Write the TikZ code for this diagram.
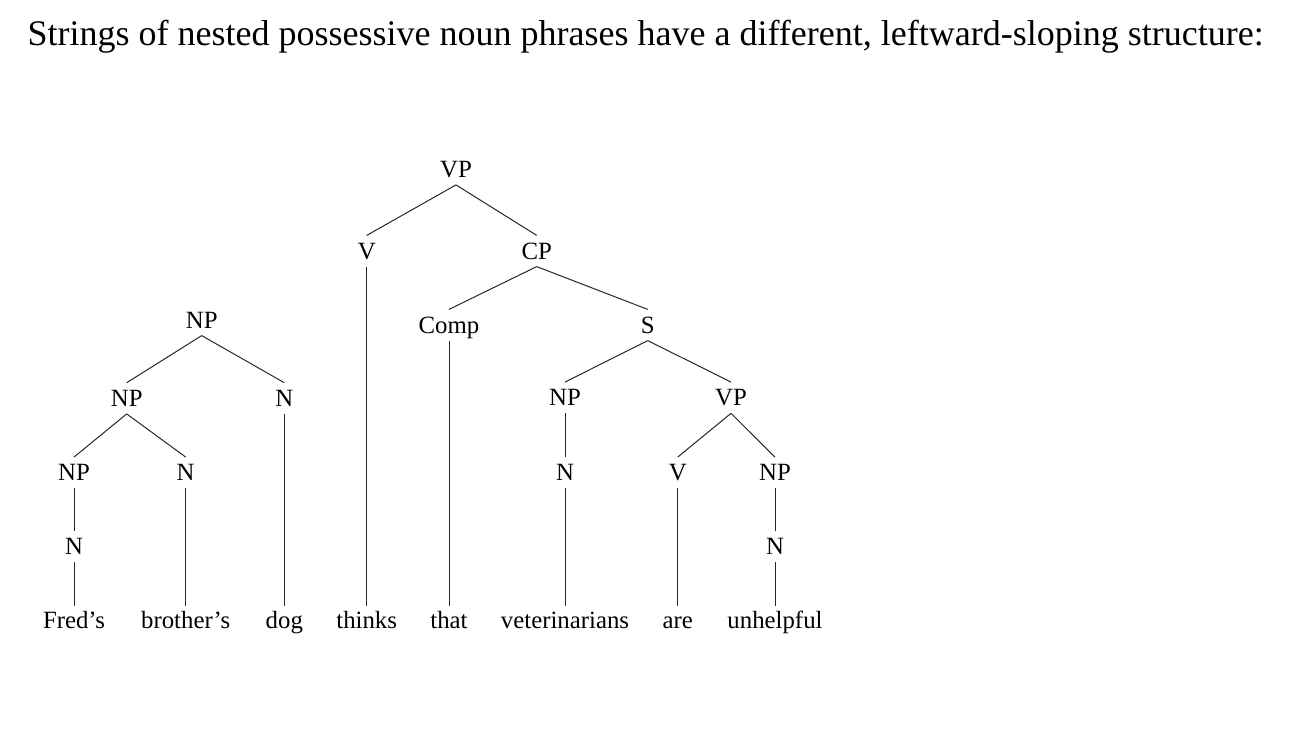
\documentclass[tikz,border=0pt]{standalone}
\usepackage{fontspec}
\setmainfont{Liberation Serif}
\begin{document}
\begin{tikzpicture}[x=0.5pt,y=-0.5pt,
  lbl/.style={font=\fontsize{12.4}{14}\selectfont, text height=8.2pt, text depth=0pt, inner xsep=0pt, inner ysep=3.5pt, anchor=center},
  word/.style={font=\fontsize{12.4}{14}\selectfont, text height=8.5pt, text depth=0pt, inner xsep=0pt, inner ysep=2.5pt, anchor=base},
  edge/.style={line width=0.5pt, black!85}]
\useasboundingbox (0,0) rectangle (1310,738);
\node[font=\fontsize{18}{22}\selectfont, inner sep=0pt, anchor=base west] (title) at (27.3,45.7) {Strings of nested possessive noun phrases have a different, leftward-sloping structure:};
% labels
\node[lbl] (VP0) at (456,169.3) {VP};
\node[lbl] (V0) at (366.7,251) {V};
\node[lbl] (CP) at (536.7,251) {CP};
\node[lbl] (Comp) at (449,325) {Comp};
\node[lbl] (S) at (647.7,325) {S};
\node[lbl] (NP1) at (565,397.7) {NP};
\node[lbl] (VP1) at (731,397.7) {VP};
\node[lbl] (N1) at (565,472.7) {N};
\node[lbl] (V1) at (677.7,472.7) {V};
\node[lbl] (NP2) at (775,472.7) {NP};
\node[lbl] (N2) at (775,546.7) {N};
\node[lbl] (NPa) at (201.7,320) {NP};
\node[lbl] (NPb) at (126.7,398.3) {NP};
\node[lbl] (Na) at (284.3,398.3) {N};
\node[lbl] (NPc) at (74,472.7) {NP};
\node[lbl] (Nb) at (185.7,472.7) {N};
\node[lbl] (Nc) at (74,546.7) {N};
% words
\node[word] (w1) at (74,628.3) {Fred’s};
\node[word] (w2) at (185.7,628.3) {brother’s};
\node[word] (w3) at (284.3,628.3) {dog};
\node[word] (w4) at (366.7,628.3) {thinks};
\node[word] (w5) at (449,628.3) {that};
\node[word] (w6) at (565,628.3) {veterinarians};
\node[word] (w7) at (677.7,628.3) {are};
\node[word] (w8) at (775,628.3) {unhelpful};
% edges
\draw[edge] (NPa.south) -- (NPb.north);
\draw[edge] (NPa.south) -- (Na.north);
\draw[edge] (NPb.south) -- (NPc.north);
\draw[edge] (NPb.south) -- (Nb.north);
\draw[edge] (NPc.south) -- (Nc.north);
\draw[edge] (Nc.south) -- (w1.north);
\draw[edge] (Nb.south) -- (w2.north);
\draw[edge] (Na.south) -- (w3.north);
\draw[edge] (VP0.south) -- (V0.north);
\draw[edge] (VP0.south) -- (CP.north);
\draw[edge] (V0.south) -- (w4.north);
\draw[edge] (CP.south) -- (Comp.north);
\draw[edge] (CP.south) -- (S.north);
\draw[edge] (Comp.south) -- (w5.north);
\draw[edge] (S.south) -- (NP1.north);
\draw[edge] (S.south) -- (VP1.north);
\draw[edge] (NP1.south) -- (N1.north);
\draw[edge] (N1.south) -- (w6.north);
\draw[edge] (VP1.south) -- (V1.north);
\draw[edge] (VP1.south) -- (NP2.north);
\draw[edge] (V1.south) -- (w7.north);
\draw[edge] (NP2.south) -- (N2.north);
\draw[edge] (N2.south) -- (w8.north);
\end{tikzpicture}
\end{document}
